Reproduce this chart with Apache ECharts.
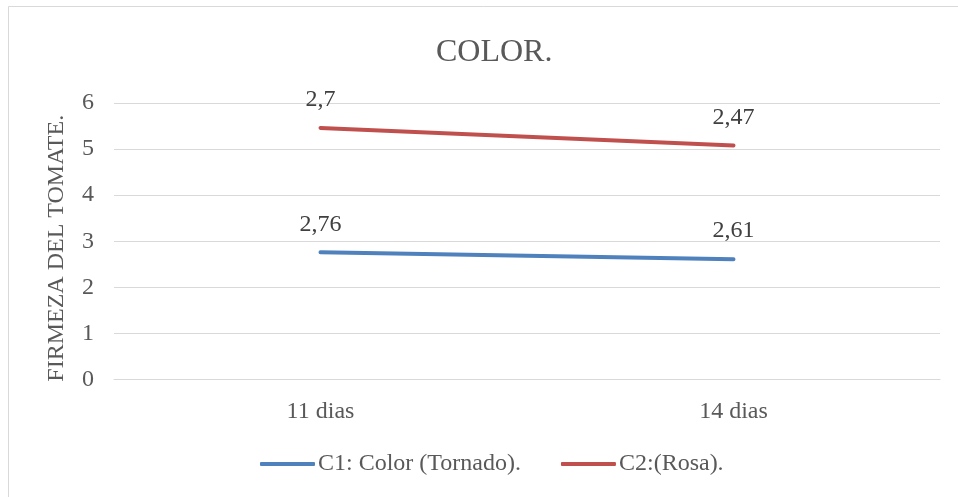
<!DOCTYPE html>
<html>
<head>
<meta charset="utf-8">
<script src="https://cdn.jsdelivr.net/npm/echarts@6/dist/echarts.min.js"></script>
<style>html,body{margin:0;padding:0;background:#fff;}#c{width:958px;height:497px;}</style>
</head>
<body>
<div id="c"></div>
<script>
const categories = ['11 dias', '14 dias'];
const c1Values = [2.76, 2.61];
const c2Values = [2.7, 2.47];
const yTicks = { min: 0, max: 6, interval: 1 };

const font = '"Liberation Serif", "Times New Roman", serif';
const chart = echarts.init(document.getElementById('c'));
const fmt = p => String(p.value).replace('.', ',');
const labelStyle = { show: true, position: 'top', distance: 16, formatter: fmt, fontFamily: font, fontSize: 24, color: '#404040' };
chart.setOption({
  backgroundColor: '#fff',
  animation: false,
  title: {
    text: 'COLOR.', left: 431, top: 32,
    textStyle: { fontFamily: font, fontSize: 32, fontWeight: 'normal', color: '#595959' }
  },
  legend: {
    bottom: 16, left: 255,
    itemWidth: 55, itemHeight: 4, itemGap: 40,
    icon: 'roundRect',
    textStyle: { fontFamily: font, fontSize: 24, color: '#595959', padding: [0, 0, 0, -2] },
    data: ['C1: Color (Tornado).', 'C2:(Rosa).']
  },
  grid: { left: 114, right: 18, top: 103, bottom: 117.5 },
  xAxis: {
    type: 'category', data: categories, boundaryGap: true,
    axisLine: { lineStyle: { color: '#d9d9d9', width: 1 } },
    axisTick: { show: false },
    axisLabel: { fontFamily: font, fontSize: 24, color: '#595959', margin: 20 }
  },
  yAxis: {
    type: 'value', min: yTicks.min, max: yTicks.max, interval: yTicks.interval,
    name: 'FIRMEZA DEL TOMATE.', nameLocation: 'middle', nameGap: 45, nameRotate: 90,
    nameTextStyle: { fontFamily: font, fontSize: 24, color: '#595959', padding: [0, 14, 0, 0] },
    axisLine: { show: false }, axisTick: { show: false },
    splitLine: { lineStyle: { color: '#d9d9d9', width: 1 } },
    axisLabel: { fontFamily: font, fontSize: 24, color: '#595959', margin: 20 }
  },
  graphic: [
    { type: 'line', shape: { x1: 8.5, y1: 6.5, x2: 958, y2: 6.5 }, style: { stroke: '#d9d9d9', lineWidth: 1 } },
    { type: 'line', shape: { x1: 8.5, y1: 6.5, x2: 8.5, y2: 497 }, style: { stroke: '#d9d9d9', lineWidth: 1 } }
  ],
  series: [
    {
      name: 'C1: Color (Tornado).', type: 'line', stack: 'total', data: c1Values,
      symbol: 'circle', symbolSize: 0.1, showSymbol: true, color: '#4F81BD',
      lineStyle: { width: 4, cap: 'round' },
      label: labelStyle
    },
    {
      name: 'C2:(Rosa).', type: 'line', stack: 'total', data: c2Values,
      symbol: 'circle', symbolSize: 0.1, showSymbol: true, color: '#C0504D',
      lineStyle: { width: 4, cap: 'round' },
      label: labelStyle
    }
  ]
});
</script>
</body>
</html>
